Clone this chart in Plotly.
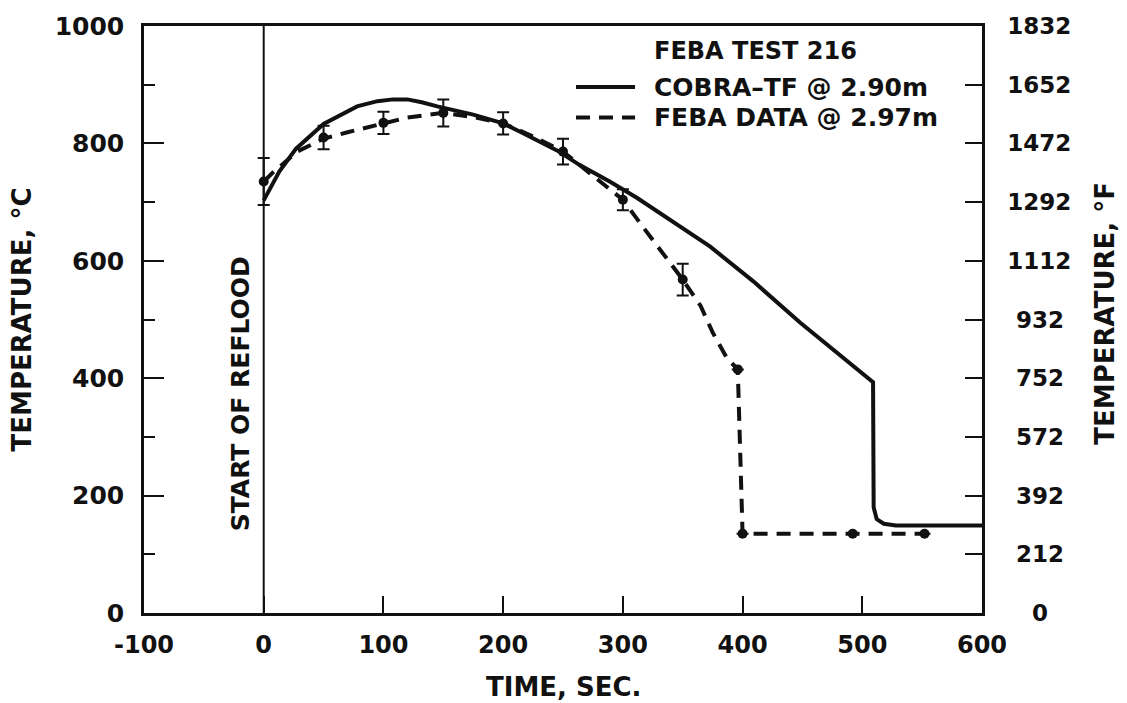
import plotly.graph_objects as go

# ---- data ----
# FEBA measured points (time s, temperature C, error bar half-width C)
feba_t = [0, 50, 100, 150, 200, 250, 300, 350, 396, 400, 492, 552]
feba_v = [735, 810, 835, 852, 834, 786, 704, 568, 415, 135, 135, 135]
feba_err = [40, 20, 19, 23, 19, 22, 18, 27, 0, 0, 0, 0]

# FEBA faired dashed curve
feba_curve_t = [0, 7, 28, 50, 70, 89, 100, 120, 150, 175, 200, 225, 250, 281, 300,
                317, 331, 341, 350, 365, 375, 387, 396, 400, 492, 552]
feba_curve_v = [735, 749, 786, 808, 819, 829, 835, 844, 852, 845, 834, 812, 786, 735, 704,
                657, 619, 590, 568, 523, 478, 434, 415, 135, 135, 135]

# COBRA-TF prediction
cobra_t = [0, 13, 27, 50, 78, 95, 108, 120, 132, 145, 175, 200, 215, 231, 245, 264, 289, 312,
           340, 373, 409, 448, 509, 509.5, 512, 518, 528, 600]
cobra_v = [703, 752, 791, 833, 863, 872, 875, 875, 870, 863, 849, 834, 819, 803, 788, 763, 735, 707,
           669, 624, 565, 495, 393, 180, 160, 152, 149, 149]

x_ticks = [-100, 0, 100, 200, 300, 400, 500, 600]
x_ticktext = ["-100", "0", "100", "200", "300", "400", "500", "600"]
c_ticks = [0, 200, 400, 600, 800, 1000]
f_tickvals = [0, 100, 200, 300, 400, 500, 600, 700, 800, 900, 1000]
f_ticktext = ["0", "212", "392", "572", "752", "932", "1112", "1292", "1472", "1652", "1832"]

FONT = "DejaVu Sans"
BLACK = "#111111"


def centre_pad(label):
    # pad shorter labels so they sit centred in a 4-digit slot
    missing = 4 - len(label)
    half_digits = missing  # each missing digit -> half a digit each side
    pad = "\u2007" * (half_digits // 2) + "\u2008" * (half_digits % 2)
    return pad + label


f_ticktext_padded = [centre_pad(t) for t in f_ticktext]

fig = go.Figure()

fig.add_trace(go.Scatter(
    x=cobra_t, y=cobra_v, mode="lines", name="COBRA–TF @ 2.90m",
    line=dict(color=BLACK, width=4), showlegend=False))

fig.add_trace(go.Scatter(
    x=feba_curve_t, y=feba_curve_v, mode="lines", name="FEBA DATA @ 2.97m",
    line=dict(color=BLACK, width=4, dash="14px,9px"), showlegend=False))

fig.add_trace(go.Scatter(
    x=feba_t, y=feba_v, mode="markers", name="FEBA points",
    marker=dict(color=BLACK, size=10),
    error_y=dict(type="data", array=feba_err, visible=True, color=BLACK,
                 thickness=2, width=6),
    showlegend=False))

# dummy trace to carry the Fahrenheit axis
fig.add_trace(go.Scatter(x=[None], y=[None], yaxis="y2", showlegend=False,
                         hoverinfo="skip"))

fig.update_layout(
    width=1127, height=703,
    margin=dict(l=144, r=145, t=15, b=90),
    plot_bgcolor="white", paper_bgcolor="white",
    showlegend=False,
    xaxis=dict(
        range=[-100, 600], tickvals=x_ticks, ticktext=x_ticktext, ticks="inside", ticklen=17,
        tickwidth=2, tickcolor=BLACK, showgrid=False, zeroline=False,
        showline=True, linecolor=BLACK, linewidth=2.5, mirror=True,
        tickfont=dict(family=FONT, size=24, color=BLACK, weight="bold"),
        ticklabelstandoff=8),
    yaxis=dict(
        range=[0, 1000], tickvals=c_ticks, ticks="inside", ticklen=20,
        tickwidth=2, tickcolor=BLACK, showgrid=False, zeroline=False,
        showline=True, linecolor=BLACK, linewidth=2.5,
        minor=dict(ticks="inside", ticklen=11, tickwidth=2, tickcolor=BLACK,
                   tickvals=[100, 300, 500, 700, 900], showgrid=False),
        tickfont=dict(family=FONT, size=25, color=BLACK, weight="bold"),
        ticklabelstandoff=12),
    yaxis2=dict(
        range=[0, 1000], overlaying="y", side="right",
        tickvals=f_tickvals, ticktext=f_ticktext_padded, ticks="inside", ticklen=17,
        tickwidth=2, tickcolor=BLACK, showgrid=False, zeroline=False,
        showline=True, linecolor=BLACK, linewidth=2.5,
        tickfont=dict(family=FONT, size=23, color=BLACK, weight="bold"),
        ticklabelstandoff=18),
)

# start of reflood line
fig.add_shape(type="line", x0=0, x1=0, y0=0, y1=1, xref="x", yref="paper",
              line=dict(color=BLACK, width=2))

ann_font = dict(family=FONT, color=BLACK, weight="bold")

fig.add_annotation(text="START OF REFLOOD", x=0, y=373, xref="x", yref="y",
                   xanchor="right", yanchor="middle", xshift=-7, textangle=-90,
                   showarrow=False, font=dict(**ann_font, size=25))

fig.add_annotation(text="TEMPERATURE, °C", x=-0.1456, y=0.5, xref="paper", yref="paper",
                   xanchor="center", yanchor="middle", textangle=-90,
                   showarrow=False, font=dict(**ann_font, size=26))
fig.add_annotation(text="TEMPERATURE, °F", x=1.1468, y=0.51, xref="paper", yref="paper",
                   xanchor="center", yanchor="middle", textangle=-90,
                   showarrow=False, font=dict(**ann_font, size=26))
fig.add_annotation(text="TIME, SEC.", x=0.5, y=-0.1254, xref="paper", yref="paper",
                   xanchor="center", yanchor="middle",
                   showarrow=False, font=dict(**ann_font, size=26))

# legend block
fig.add_annotation(text="FEBA TEST 216", x=0.606, y=0.958, xref="paper", yref="paper",
                   xanchor="left", yanchor="middle", showarrow=False,
                   font=dict(**ann_font, size=24))
fig.add_annotation(text="COBRA–TF @ 2.90m", x=0.606, y=0.896, xref="paper", yref="paper",
                   xanchor="left", yanchor="middle", showarrow=False,
                   font=dict(**ann_font, size=25))
fig.add_annotation(text="FEBA DATA @ 2.97m", x=0.606, y=0.844, xref="paper", yref="paper",
                   xanchor="left", yanchor="middle", showarrow=False,
                   font=dict(**ann_font, size=25))
fig.add_shape(type="line", xref="paper", yref="paper", x0=0.5155, x1=0.586,
              y0=0.896, y1=0.896, line=dict(color=BLACK, width=4))
fig.add_shape(type="line", xref="paper", yref="paper", x0=0.5155, x1=0.586,
              y0=0.844, y1=0.844, line=dict(color=BLACK, width=4, dash="14px,9px"))

fig.write_html("out.html")
